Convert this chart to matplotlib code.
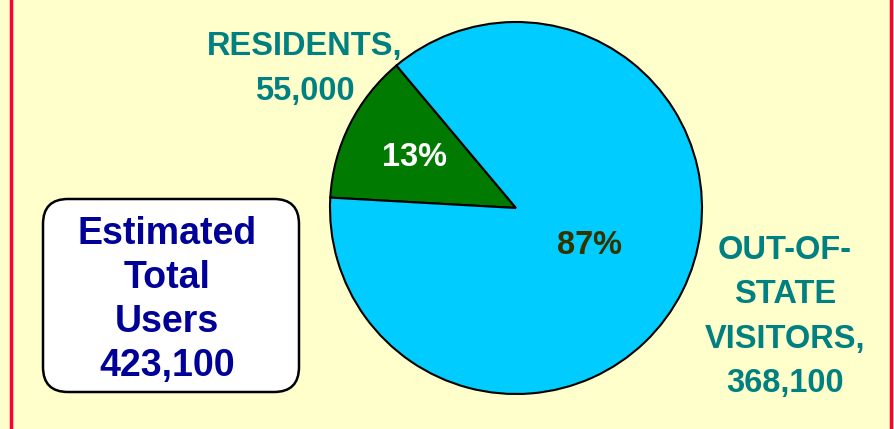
import matplotlib.pyplot as plt
from matplotlib.patches import FancyBboxPatch

# data
groups = ['RESIDENTS', 'OUT-OF-STATE VISITORS']
users = [55000, 368100]
total_users = 423100
slice_colors = ['#007A00', '#00CCFF']
pct_colors = ['white', '#333300']

W, H = 894, 429
fig = plt.figure(figsize=(W / 100, H / 100), dpi=100)
fig.patch.set_facecolor('#FFFFCC')
ax = fig.add_axes([0, 0, 1, 1])
ax.set_xlim(0, W)
ax.set_ylim(0, H)
ax.set_aspect('equal')
ax.axis('off')

def Y(y):
    # pixel row from top -> data y
    return H - y

plt.rcParams['font.family'] = ['Liberation Sans', 'DejaVu Sans']

wedges, _, autotexts = ax.pie(users, colors=slice_colors, startangle=130,
                              counterclock=True, center=(516, Y(208)), radius=186,
                              autopct='%1.0f%%', pctdistance=0.55,
                              wedgeprops=dict(edgecolor='black', linewidth=1.5),
                              textprops=dict(fontsize=23.5, fontweight='bold'))
ax.set_xlim(0, W)
ax.set_ylim(0, H)
for t, c in zip(autotexts, pct_colors):
    t.set_color(c)
autotexts[0].set_position((414, Y(158)))
autotexts[1].set_position((590, Y(246)))

teal = '#008080'
ax.text(305, Y(69), 'RESIDENTS,\n{:,}'.format(users[0]), ha='center', va='center',
        fontsize=23.5, fontweight='bold', color=teal, linespacing=1.55)
ax.text(785, Y(317), 'OUT-OF-\nSTATE\nVISITORS,\n{:,}'.format(users[1]), ha='center',
        va='center', fontsize=23.5, fontweight='bold', color=teal, linespacing=1.55)

box = FancyBboxPatch((43 + 25, Y(392) + 25), 256 - 50, 193 - 50,
                     boxstyle='round,pad=25', facecolor='white', edgecolor='black',
                     linewidth=1.8)
ax.add_patch(box)
ax.text(167, Y(300), 'Estimated\nTotal\nUsers\n{:,}'.format(total_users), ha='center',
        va='center', fontsize=27, fontweight='bold', color='#000099', linespacing=1.29)

# red side borders
ax.plot([11, 11], [0, H], color='#FF0033', lw=2.5)
ax.plot([891, 891], [0, H], color='#FF0033', lw=2.5)

fig.savefig('out.png', dpi=100, facecolor=fig.get_facecolor())
